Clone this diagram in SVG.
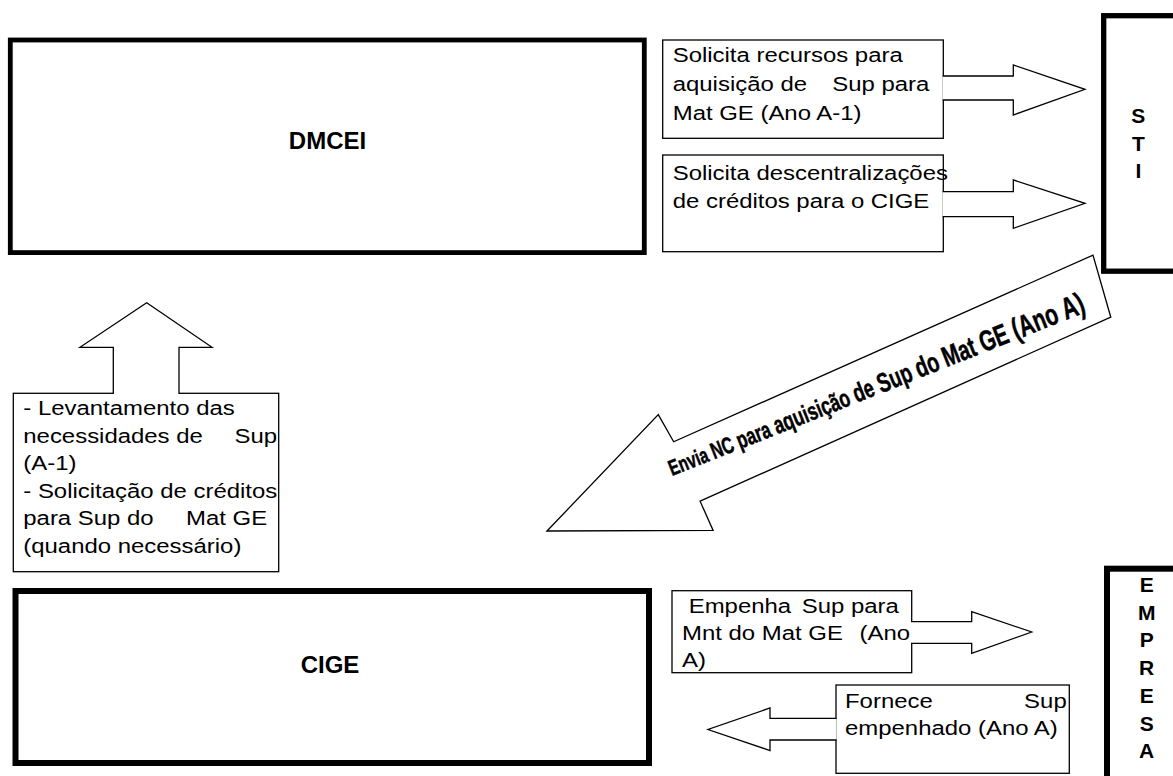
<svg xmlns="http://www.w3.org/2000/svg" width="1173" height="776" viewBox="0 0 1173 776">
  <style>
    .bg { fill: #ffffff; }
    .org { fill: #ffffff; stroke: #000000; }
    .note { fill: #ffffff; stroke: #000000; stroke-width: 1.3; }
    .flow { fill: #ffffff; stroke: #000000; stroke-width: 1.3; stroke-linejoin: miter; }
    .t { font-family: "Liberation Sans", Arial, sans-serif; font-size: 21px; fill: #000000; }
    .b { font-family: "Liberation Sans", Arial, sans-serif; font-weight: bold; fill: #000000; }
    .wa { font-family: "Liberation Sans", Arial, sans-serif; font-weight: bold; fill: #000000; stroke: #000000; stroke-width: 0.5; }
  </style>

  <rect class="bg" x="0" y="0" width="1173" height="776"/>

  <!-- DMCEI -->
  <g id="dmcei">
    <rect class="org" x="10.3" y="40" width="634" height="212.6" stroke-width="4.8"/>
    <text class="b" x="327.5" y="149.3" font-size="24" text-anchor="middle">DMCEI</text>
  </g>

  <!-- STI (cut by the right border) -->
  <g id="sti">
    <rect class="org" x="1103.7" y="15.7" width="200" height="255.5" stroke-width="5.3"/>
    <text class="b" x="1138.3" y="123" font-size="21" text-anchor="middle">S</text>
    <text class="b" x="1138.3" y="150.5" font-size="21" text-anchor="middle">T</text>
    <text class="b" x="1138.3" y="178" font-size="21" text-anchor="middle">I</text>
  </g>

  <!-- CIGE -->
  <g id="cige">
    <rect class="org" x="15.5" y="591" width="633.5" height="172" stroke-width="6"/>
    <text class="b" x="330" y="673" font-size="24" text-anchor="middle">CIGE</text>
  </g>

  <!-- EMPRESA (cut by the right and bottom borders) -->
  <g id="empresa">
    <rect class="org" x="1107" y="568.7" width="200" height="300" stroke-width="6"/>
    <text class="b" x="1146.7" y="592" font-size="21" text-anchor="middle">E</text>
    <text class="b" x="1146.7" y="619.7" font-size="21" text-anchor="middle">M</text>
    <text class="b" x="1146.7" y="647.4" font-size="21" text-anchor="middle">P</text>
    <text class="b" x="1146.7" y="675.1" font-size="21" text-anchor="middle">R</text>
    <text class="b" x="1146.7" y="702.8" font-size="21" text-anchor="middle">E</text>
    <text class="b" x="1146.7" y="730.5" font-size="21" text-anchor="middle">S</text>
    <text class="b" x="1146.7" y="758.2" font-size="21" text-anchor="middle">A</text>
  </g>

  <!-- Note: request of resources -->
  <g id="note-recursos">
    <rect class="note" x="662.7" y="40" width="280.6" height="98.3"/>
    <text class="t" transform="matrix(1.14 0 0 1 672.7 62)">Solicita recursos para</text>
    <text class="t" transform="matrix(1.14 0 0 1 672.7 91)">aquisição de</text>
    <text class="t" text-anchor="end" transform="matrix(1.14 0 0 1 929.3 91)">Sup para</text>
    <text class="t" transform="matrix(1.14 0 0 1 672.7 120)">Mat GE (Ano A-1)</text>
  </g>

  <!-- Note: decentralisation of credits -->
  <g id="note-descentralizacao">
    <rect class="note" x="662.7" y="155" width="280.6" height="96.7"/>
  </g>

  <!-- Note: survey of needs -->
  <g id="note-levantamento">
    <rect class="note" x="13.3" y="393.3" width="265.4" height="178.4"/>
    <text class="t" transform="matrix(1.14 0 0 1 23.3 415)">- Levantamento das</text>
    <text class="t" transform="matrix(1.14 0 0 1 23.3 442.5)">necessidades de</text>
    <text class="t" text-anchor="end" transform="matrix(1.14 0 0 1 277 442.5)">Sup</text>
    <text class="t" transform="matrix(1.14 0 0 1 23.3 470)">(A-1)</text>
    <text class="t" transform="matrix(1.14 0 0 1 23.3 497.5)">- Solicitação de créditos</text>
    <text class="t" transform="matrix(1.14 0 0 1 23.3 525)">para Sup do</text>
    <text class="t" transform="matrix(1.14 0 0 1 186 525)">Mat GE</text>
    <text class="t" transform="matrix(1.14 0 0 1 23.3 552.5)">(quando necessário)</text>
  </g>

  <!-- Note: commitment -->
  <g id="note-empenho">
    <rect class="note" x="672" y="590.7" width="239.7" height="82"/>
  </g>

  <!-- Note: supply -->
  <g id="note-fornecimento">
    <rect class="note" x="836" y="685" width="233.3" height="88.3"/>
    <text class="t" transform="matrix(1.14 0 0 1 845 708.3)">Fornece</text>
    <text class="t" text-anchor="end" transform="matrix(1.14 0 0 1 1066.7 708.3)">Sup</text>
    <text class="t" transform="matrix(1.14 0 0 1 845 735)">empenhado (Ano A)</text>
  </g>

  <!-- Block arrows -->
  <g id="connectors">
    <path class="flow" d="M942.6,76 H1013.3 V65 L1085,89.3 L1013.3,115 V100 H942.6"/>
    <path class="flow" d="M942.6,191.7 H1013.3 V180 L1085,203.3 L1013.3,228.3 V216.7 H942.6"/>
    <path class="flow" d="M113.3,394 V347.3 H80 L146.7,302.7 L212,347.3 H179 V394"/>
    <path class="flow" d="M911,621.7 H971.7 V611.7 L1031.7,632 L971.7,653.3 V643.3 H911"/>
    <path class="flow" d="M836.6,718.3 H770 V708 L708,729.5 L770,750.5 V740 H836.6"/>
    <polygon class="flow" transform="translate(547,531) rotate(-24)" points="0,0 149,-61 152,-30 611,-30 602,34 152,35 152,67"/>
    <!-- lettering grows towards the tail -->
    <text class="wa" transform="translate(672,476) rotate(-21.6) scale(0.7,1)"><tspan font-size="22">Envia </tspan><tspan font-size="23">NC </tspan><tspan font-size="24">para </tspan><tspan font-size="25">aquisição </tspan><tspan font-size="26">de </tspan><tspan font-size="27">Sup </tspan><tspan font-size="28">do </tspan><tspan font-size="28.5">Mat </tspan><tspan font-size="29">GE </tspan><tspan font-size="30">(Ano </tspan><tspan font-size="30.5">A)</tspan></text>
  </g>

  <!-- Labels written over the arrow shafts -->
  <g id="note-descentralizacao-text">
    <text class="t" transform="matrix(1.14 0 0 1 672.7 180)">Solicita descentralizações</text>
    <text class="t" transform="matrix(1.14 0 0 1 672.7 208)">de créditos para o CIGE</text>
  </g>
  <g id="note-empenho-text">
    <text class="t" transform="matrix(1.14 0 0 1 688.7 613.3)">Empenha</text>
    <text class="t" transform="matrix(1.14 0 0 1 801.7 613.3)">Sup para</text>
    <text class="t" transform="matrix(1.14 0 0 1 682 640)">Mnt do Mat GE</text>
    <text class="t" text-anchor="end" transform="matrix(1.14 0 0 1 910 640)">(Ano</text>
    <text class="t" transform="matrix(1.14 0 0 1 682 667)">A)</text>
  </g>
</svg>
